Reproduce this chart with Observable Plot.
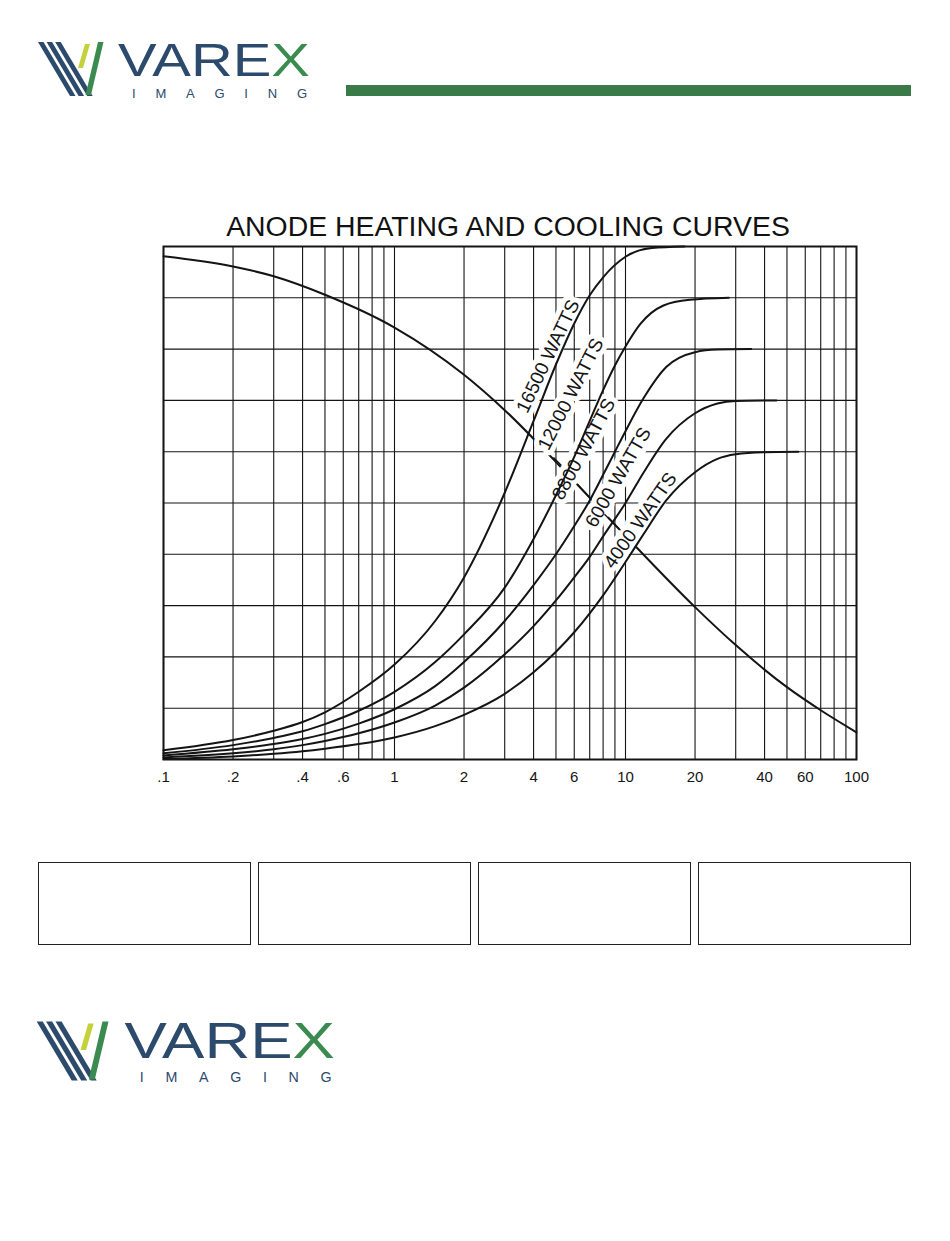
<!DOCTYPE html>
<html><head><meta charset="utf-8">
<script src="https://cdn.jsdelivr.net/npm/d3@7"></script>
<script src="https://cdn.jsdelivr.net/npm/@observablehq/plot@0.6"></script>
<style>
body{margin:0;background:#fff;font-family:"Liberation Sans",Arial,Helvetica,sans-serif;}
#page{position:relative;width:950px;height:1241px;overflow:hidden;background:#fff;}
.abs{position:absolute;}
#greenbar{left:346px;top:85px;width:565px;height:11px;background:#3a7a48;}
#title{left:163px;width:690px;top:212px;text-align:center;font-size:28.4px;line-height:28px;color:#111;white-space:nowrap;}
#chart{left:143px;top:235px;}
.box{top:862px;height:81px;width:211px;border:1.5px solid #222;}
svg.logo{overflow:visible;}
</style></head><body>
<div id="page">
  <svg id="logoTop" class="abs logo" style="left:36px;top:38px" width="290" height="62" viewBox="0 0 290 62"></svg>
  <div id="greenbar" class="abs"></div>
  <div id="title" class="abs">ANODE HEATING AND COOLING CURVES</div>
  <div id="chart" class="abs"></div>
  <div class="abs box" style="left:38px"></div>
  <div class="abs box" style="left:258px"></div>
  <div class="abs box" style="left:478px"></div>
  <div class="abs box" style="left:698px"></div>
  <svg id="logoBottom" class="abs logo" style="left:34px;top:1017px" width="319" height="68" viewBox="0 0 290 62"></svg>
</div>
<script>
// ---- axis / grid ----
const xTicks = [0.1, 0.2, 0.4, 0.6, 1, 2, 4, 6, 10, 20, 40, 60, 100];
const xTickLabels = [".1", ".2", ".4", ".6", "1", "2", "4", "6", "10", "20", "40", "60", "100"];
const xGrid = [0.1,0.2,0.3,0.4,0.5,0.6,0.7,0.8,0.9,1,2,3,4,5,6,7,8,9,10,20,30,40,50,60,70,80,90,100];
const yGrid = [0,10,20,30,40,50,60,70,80,90,100];

// ---- cooling curve (time, % of heat storage) ----
const cooling = [[0.1,98.1],[0.2,96.1],[0.3,94.2],[0.5,90.6],[1,84.2],[2,75.0],[3,68.1],[5,58.0],[10,43.6],[20,29.7],[30,22.3],[50,14.1],[70,9.6],[100,5.3]];

// ---- heating curves (time, % of heat storage) ----
const heat16500 = [[0.1,1.8],[0.2,3.8],[0.3,5.6],[0.4,7.3],[0.5,9.2],[0.7,13.2],[1,18.5],[1.5,27],[2,35.5],[3,52],[4,66],[5,77],[6,85],[7,90.5],[8,94],[10,98],[13,99.7],[18,100]];
const heat12000 = [[0.1,1.2],[0.2,2.8],[0.3,4.2],[0.4,5.5],[0.5,6.9],[0.7,9.5],[1,13.2],[1.5,19],[2,24.4],[3,33.5],[4,43],[5,51.5],[6,59],[7,66],[8,72],[9,76.8],[10,80.5],[11.6,84.9],[14.6,88.5],[19,89.6],[28,90]];
const heat8800 = [[0.1,0.8],[0.2,2.0],[0.3,3.0],[0.4,4.0],[0.5,5.0],[0.7,7.0],[1,9.8],[1.5,14.3],[2,19],[3,27],[4,34],[5,40],[6,45.5],[7,50.5],[8,55.5],[9,60],[10,64],[12,70.5],[15,76.5],[20,79.4],[25,79.9],[35,80]];
const heat6000 = [[0.1,0.4],[0.2,1.2],[0.3,2.0],[0.4,2.8],[0.5,3.6],[0.7,5.1],[1,7.2],[1.5,10.5],[2,14],[3,20.5],[4,26],[5,31],[6,35.5],[7,39.5],[8,43.5],[10,50],[12,56],[15,62.5],[20,67.5],[25,69.4],[30,69.9],[45,70]];
const heat4000 = [[0.1,0.1],[0.2,0.6],[0.3,1.1],[0.4,1.6],[0.5,2.1],[0.7,3.0],[1,4.3],[1.5,6.5],[2,8.7],[3,12.8],[4,17],[5,21],[6,24.8],[7,28.5],[8,32],[10,38.5],[12,44],[15,50.5],[20,56],[25,58.6],[30,59.5],[40,59.9],[56,60]];

const seriesNames = ["16500 WATTS","12000 WATTS","8800 WATTS","6000 WATTS","4000 WATTS"];
const seriesData = [heat16500, heat12000, heat8800, heat6000, heat4000];

// ---- label placement (data coords) ----
const labelX = [4.62, 5.8, 6.6, 9.3, 11.6];
const labelY = [78.6, 71.2, 60.5, 55.0, 46.6];
const labelAngle = [-64.5, -63, -61.5, -60, -55];

// ---- leader ticks ----
const leaderX1 = [4.88, 6.20, 8.11];
const leaderY1 = [58.9, 53.6, 47.8];
const leaderX2 = [5.28, 6.99, 9.51];
const leaderY2 = [57.3, 51.1, 44.7];

const heatRows = seriesData.flatMap((arr, i) => arr.map(([t, v]) => ({series: seriesNames[i], t, v})));
const coolRows = cooling.map(([t, v]) => ({t, v}));
const labelRows = seriesNames.map((s, i) => ({text: s, x: labelX[i], y: labelY[i], r: labelAngle[i]}));
const leaderRows = leaderX1.map((d, i) => ({x1: d, y1: leaderY1[i], x2: leaderX2[i], y2: leaderY2[i]}));
const tickRows = xTicks.map((d, i) => ({x: d, label: xTickLabels[i]}));

const ink = "#141414";
const chart = Plot.plot({
  width: 740, height: 559,
  marginLeft: 20, marginRight: 27, marginTop: 11, marginBottom: 35,
  x: {type: "log", domain: [0.1, 100], axis: null},
  y: {domain: [0, 100], axis: null},
  style: {fontFamily: "'Liberation Sans', Arial, sans-serif", fontSize: "15px", color: ink, background: "transparent", overflow: "visible"},
  marks: [
    Plot.ruleX(xGrid, {stroke: ink, strokeWidth: 1.1}),
    Plot.ruleY(yGrid, {stroke: ink, strokeWidth: 1.1}),
    Plot.line(coolRows, {x: "t", y: "v", stroke: ink, strokeWidth: 2, curve: "monotone-x"}),
    Plot.text(labelRows, {x: "x", y: "y", text: "text", rotate: "r", fontSize: 19, fill: ink, stroke: "white", strokeWidth: 10, strokeLinejoin: "round"}),
    Plot.line(heatRows, {x: "t", y: "v", z: "series", stroke: ink, strokeWidth: 2, curve: "monotone-x"}),
    Plot.link(leaderRows, {x1: "x1", y1: "y1", x2: "x2", y2: "y2", stroke: ink, strokeWidth: 1.3}),
    Plot.frame({stroke: ink, strokeWidth: 2}),
    Plot.text(tickRows, {x: "x", y: () => 0, text: "label", dy: 18, fontSize: 15, fill: ink})
  ]
});
document.getElementById("chart").appendChild(chart);

// ---- logo ----
function drawLogo(id) {
  const svg = d3.select("#" + id);
  const navy = "#2c4a6c", green = "#3b8a4f", lime = "#c3d23b";
  const ff = "'Liberation Sans', Arial, sans-serif";
  [0, 1, 2].forEach(i => {
    const o = 8.6 * i;
    svg.append("polygon").attr("points", `${2+o},4 ${7.5+o},4 ${39.5+o},58 ${34+o},58`).attr("fill", navy);
  });
  svg.append("polygon").attr("points", "49,6 54,6 47,30 42,30").attr("fill", lime);
  svg.append("polygon").attr("points", "62,4 67.5,4 55,57 49.5,57").attr("fill", green);
  const t = svg.append("text").attr("x", 82).attr("y", 37.8).attr("font-size", 46)
    .attr("textLength", 192).attr("lengthAdjust", "spacingAndGlyphs").attr("font-family", ff);
  t.append("tspan").attr("fill", navy).text("VARE");
  t.append("tspan").attr("fill", green).text("X");
  svg.append("text").attr("x", 96).attr("y", 59.5).attr("font-size", 13).attr("textLength", 175).attr("lengthAdjust", "spacing")
    .attr("fill", navy).attr("font-family", ff).text("IMAGING");
}
drawLogo("logoTop");
drawLogo("logoBottom");
</script>
</body></html>
